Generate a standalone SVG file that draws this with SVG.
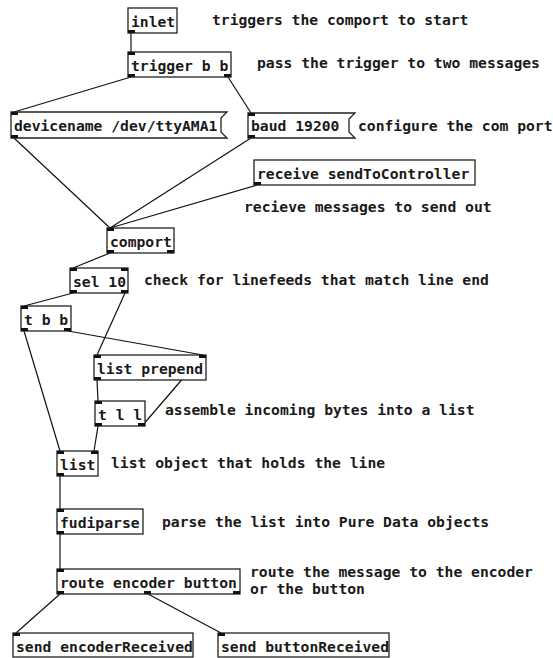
<svg xmlns="http://www.w3.org/2000/svg" width="553" height="658" viewBox="0 0 553 658">
<style>
text{font-family:"DejaVu Sans Mono","Liberation Mono",monospace;font-weight:bold;font-size:14.7px;fill:#1a1a1a}
.box{fill:#fff;stroke:#222;stroke-width:1.3}
.io{fill:#111}
.wire{stroke:#111;stroke-width:1.2;fill:none}
</style>
<rect width="553" height="658" fill="#fff"/>
<g id="connectors">
<line class="wire" x1="131" y1="33" x2="131" y2="52"/>
<line class="wire" x1="131" y1="77" x2="14" y2="112"/>
<line class="wire" x1="228" y1="77" x2="251" y2="113"/>
<line class="wire" x1="14" y1="138" x2="110" y2="228"/>
<line class="wire" x1="251" y1="138" x2="110" y2="228"/>
<line class="wire" x1="257" y1="185" x2="110" y2="228"/>
<line class="wire" x1="110" y1="253" x2="73" y2="268"/>
<line class="wire" x1="73" y1="293" x2="24" y2="306"/>
<line class="wire" x1="125" y1="293" x2="97" y2="355"/>
<line class="wire" x1="24" y1="331" x2="60" y2="451"/>
<line class="wire" x1="68" y1="331" x2="203" y2="355"/>
<line class="wire" x1="97" y1="380" x2="98" y2="401"/>
<line class="wire" x1="142" y1="426" x2="203" y2="355"/>
<line class="wire" x1="98" y1="426" x2="94" y2="451"/>
<line class="wire" x1="60" y1="475" x2="60" y2="509"/>
<line class="wire" x1="60" y1="534" x2="60" y2="569"/>
<line class="wire" x1="60" y1="594" x2="16" y2="633"/>
<line class="wire" x1="148" y1="594" x2="221" y2="633"/>
</g>
<g id="inlet">
<rect class="box" x="128" y="8" width="49" height="25"/>
<rect class="io" x="128" y="30" width="7" height="3"/>
<text x="131" y="27">inlet</text>
</g>
<g id="trigger">
<rect class="box" x="128" y="52" width="103" height="25"/>
<rect class="io" x="128" y="52" width="7" height="3"/>
<rect class="io" x="128" y="74" width="7" height="3"/>
<rect class="io" x="224" y="74" width="7" height="3"/>
<text x="131" y="71">trigger b b</text>
</g>
<g id="devicename">
<path class="box" d="M11,112 H227 L221,118 V132 L227,138 H11 Z"/>
<rect class="io" x="11" y="112" width="7" height="3"/>
<rect class="io" x="11" y="135" width="7" height="3"/>
<text x="14" y="131">devicename /dev/ttyAMA1</text>
</g>
<g id="baud">
<path class="box" d="M248,113 H355 L349,119 V132 L355,138 H248 Z"/>
<rect class="io" x="248" y="113" width="7" height="3"/>
<rect class="io" x="248" y="135" width="7" height="3"/>
<text x="251" y="131">baud 19200</text>
</g>
<g id="receive">
<rect class="box" x="254" y="160" width="221" height="25"/>
<rect class="io" x="254" y="182" width="7" height="3"/>
<text x="257" y="179">receive sendToController</text>
</g>
<g id="comport">
<rect class="box" x="107" y="228" width="67" height="25"/>
<rect class="io" x="107" y="228" width="7" height="3"/>
<rect class="io" x="107" y="250" width="7" height="3"/>
<rect class="io" x="167" y="250" width="7" height="3"/>
<text x="110" y="247">comport</text>
</g>
<g id="sel">
<rect class="box" x="70" y="268" width="58" height="25"/>
<rect class="io" x="70" y="268" width="7" height="3"/>
<rect class="io" x="121" y="268" width="7" height="3"/>
<rect class="io" x="70" y="290" width="7" height="3"/>
<rect class="io" x="121" y="290" width="7" height="3"/>
<text x="73" y="287">sel 10</text>
</g>
<g id="tbb">
<rect class="box" x="21" y="306" width="50" height="25"/>
<rect class="io" x="21" y="306" width="7" height="3"/>
<rect class="io" x="21" y="328" width="7" height="3"/>
<rect class="io" x="64" y="328" width="7" height="3"/>
<text x="24" y="325">t b b</text>
</g>
<g id="listprepend">
<rect class="box" x="94" y="355" width="112" height="25"/>
<rect class="io" x="94" y="355" width="7" height="3"/>
<rect class="io" x="199" y="355" width="7" height="3"/>
<rect class="io" x="94" y="377" width="7" height="3"/>
<text x="97" y="374">list prepend</text>
</g>
<g id="tll">
<rect class="box" x="95" y="401" width="50" height="25"/>
<rect class="io" x="95" y="401" width="7" height="3"/>
<rect class="io" x="95" y="423" width="7" height="3"/>
<rect class="io" x="138" y="423" width="7" height="3"/>
<text x="98" y="420">t l l</text>
</g>
<g id="list">
<rect class="box" x="57" y="451" width="41" height="25"/>
<rect class="io" x="57" y="451" width="7" height="3"/>
<rect class="io" x="91" y="451" width="7" height="3"/>
<rect class="io" x="57" y="473" width="7" height="3"/>
<text x="60" y="470">list</text>
</g>
<g id="fudiparse">
<rect class="box" x="57" y="509" width="86" height="25"/>
<rect class="io" x="57" y="509" width="7" height="3"/>
<rect class="io" x="57" y="531" width="7" height="3"/>
<text x="60" y="528">fudiparse</text>
</g>
<g id="route">
<rect class="box" x="57" y="569" width="183" height="25"/>
<rect class="io" x="57" y="569" width="7" height="3"/>
<rect class="io" x="57" y="591" width="7" height="3"/>
<rect class="io" x="144" y="591" width="7" height="3"/>
<rect class="io" x="233" y="591" width="7" height="3"/>
<text x="60" y="588">route encoder button</text>
</g>
<g id="sendencoder">
<rect class="box" x="13" y="633" width="180" height="24"/>
<rect class="io" x="13" y="633" width="7" height="3"/>
<text x="16" y="652">send encoderReceived</text>
</g>
<g id="sendbutton">
<rect class="box" x="218" y="633" width="171" height="24"/>
<rect class="io" x="218" y="633" width="7" height="3"/>
<text x="221" y="652">send buttonReceived</text>
</g>
<g id="comments">
<text x="212" y="25">triggers the comport to start</text>
<text x="257" y="68">pass the trigger to two messages</text>
<text x="358" y="131">configure the com port</text>
<text x="244" y="212">recieve messages to send out</text>
<text x="144" y="285">check for linefeeds that match line end</text>
<text x="165" y="415">assemble incoming bytes into a list</text>
<text x="111" y="468">list object that holds the line</text>
<text x="162" y="527">parse the list into Pure Data objects</text>
<text x="250" y="577">route the message to the encoder</text>
<text x="250" y="594">or the button</text>
</g>
</svg>
